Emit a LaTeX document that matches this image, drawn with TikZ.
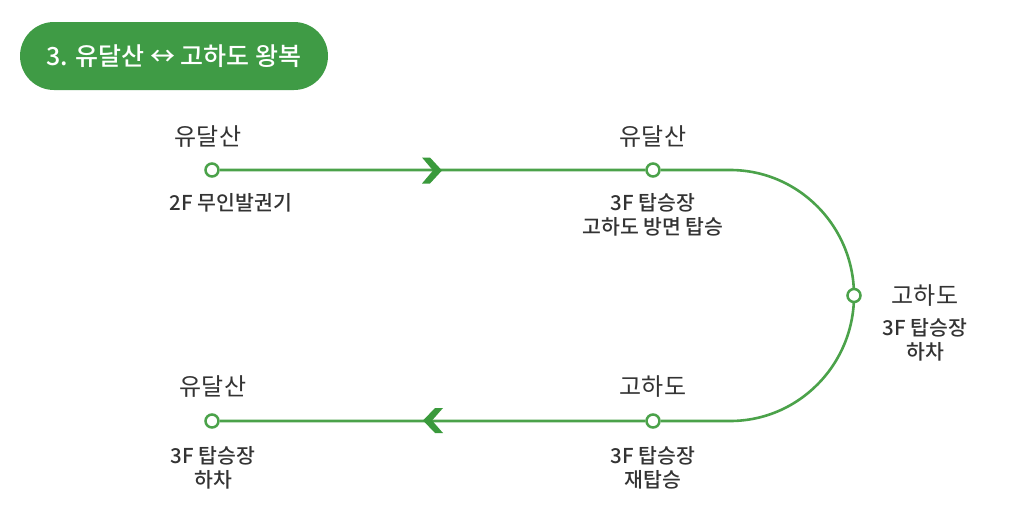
\documentclass[tikz,border=0pt]{standalone}
\usepackage{fontspec}
\setmainfont{Noto Sans CJK KR}[BoldFont={Noto Sans CJK KR Bold}]
\newfontfamily\krmed{Noto Sans CJK KR Medium}
\usetikzlibrary{backgrounds}
\definecolor{pillgreen}{HTML}{3F9B45}
\definecolor{linegreen}{HTML}{4BA24A}
\definecolor{chevgreen}{HTML}{3A9A3C}
\definecolor{txt}{HTML}{333333}
\tikzset{
  stop/.style={circle, draw=linegreen, fill=white, line width=2.5pt, inner sep=0pt, minimum size=13pt},
  route/.style={draw=linegreen, line width=2.6pt},
  stname/.style={text=txt, font=\fontsize{24}{28}\selectfont, inner sep=0pt},
  stsub/.style={text=txt, font=\krmed\fontsize{20.5}{24}\selectfont, inner sep=0pt, align=center},
  chev/.style={fill=chevgreen, draw=none}
}
\begin{document}
\begin{tikzpicture}[x=1pt,y=-1pt]
\useasboundingbox (0,0) rectangle (1014,525);
% title pill
\node[fill=pillgreen, rounded corners=34pt, minimum width=308pt, minimum height=68pt, inner sep=0pt,
      text=white, font=\krmed\fontsize{25}{30}\selectfont] (title) at (174,56) {3. 유달산 ↔ 고하도 왕복};
% stops
\node[stop] (s1) at (212,170) {};
\node[stop] (s2) at (653,170) {};
\node[stop] (s3) at (854,295.5) {};
\node[stop] (s4) at (653,421) {};
\node[stop] (s5) at (212,421) {};
\coordinate (c1) at (730,170);
\coordinate (c2) at (730,421);
\begin{pgfonlayer}{background}
\draw[route] (s1) -- (s2) -- (c1) arc[start angle=-90, end angle=90, x radius=124, y radius=125.5] -- (s4) -- (s5);
\end{pgfonlayer}
% chevrons
\fill[chev] (422,157.5) -- (430,157.5) -- (442,170.5) -- (430,183.5) -- (422,183.5) -- (433,170.5) -- cycle;
\fill[chev] (443,408) -- (435,408) -- (423,420.5) -- (435,433) -- (443,433) -- (432,420.5) -- cycle;
% labels
\node[stname] (n1) at (208,137) {유달산};
\node[stsub] (d1) at (231,203) {2F 무인발권기};
\node[stname] (n2) at (653,137) {유달산};
\node[stsub] (d2) at (653,215) {3F 탑승장\\고하도 방면 탑승};
\node[stname] (n3) at (925,296) {고하도};
\node[stsub] (d3) at (925,340) {3F 탑승장\\하차};
\node[stname] (n4) at (653,387) {고하도};
\node[stsub] (d4) at (653,468) {3F 탑승장\\재탑승};
\node[stname] (n5) at (213,387) {유달산};
\node[stsub] (d5) at (213,467.5) {3F 탑승장\\하차};
\end{tikzpicture}
\end{document}
